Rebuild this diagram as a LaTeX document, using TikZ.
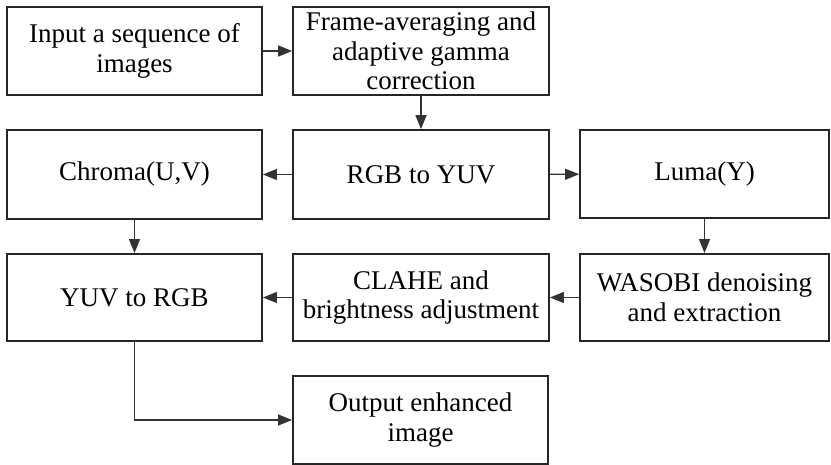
\documentclass[tikz,border=0pt]{standalone}
\usepackage{fontspec}
\setmainfont{Liberation Serif}
\usetikzlibrary{arrows.meta}
\begin{document}
\begin{tikzpicture}[x=1pt,y=-1pt,
  box/.style={draw=black!85,line width=1.8pt,rectangle,minimum width=255pt,minimum height=88pt,
    align=center,inner sep=2pt,font=\fontsize{27}{29.5}\selectfont},
  conn/.style={draw=black!80,line width=1.2pt,-{Triangle[length=14pt,width=11pt]}}]
\useasboundingbox (0,0) rectangle (831,465);
\node[box] (inp) at (134.5,51) {Input a sequence of\\images};
\node[box,minimum width=256pt] (frame) at (421,51) {Frame-averaging and\\adaptive gamma\\correction};
\node[box,minimum height=89pt] (chroma) at (134.5,174.5) {Chroma(U,V)};
\node[box,minimum width=256pt,minimum height=89pt] (rgb) at (421,174.5) {RGB to YUV};
\node[box,minimum width=249pt] (luma) at (704.5,174) {Luma(Y)};
\node[box,minimum height=87pt] (yuv) at (134.5,297.5) {YUV to RGB};
\node[box,minimum width=256pt,minimum height=87pt] (clahe) at (421,297.5) {CLAHE and\\brightness adjustment};
\node[box,minimum width=249pt,minimum height=87pt] (wasobi) at (704.5,297.5) {WASOBI denoising\\and extraction};
\node[box] (out) at (420.5,420) {Output enhanced\\image};
\draw[conn,line width=1.6pt] (inp) -- (frame);
\draw[conn,line width=1.6pt] (frame) -- (rgb);
\draw[conn] (rgb) -- (chroma);
\draw[conn] (rgb) -- (luma);
\draw[conn] (chroma) -- (yuv);
\draw[conn] (luma) -- (wasobi);
\draw[conn] (wasobi) -- (clahe);
\draw[conn] (clahe) -- (yuv);
\draw[conn] (yuv.south) |- (out.west);
\end{tikzpicture}
\end{document}
